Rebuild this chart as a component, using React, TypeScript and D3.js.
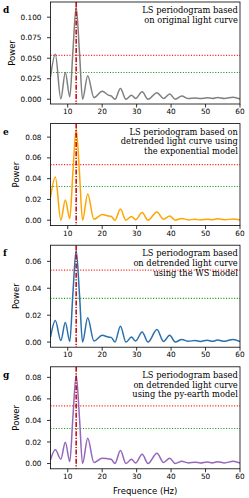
import React from 'react';
import * as d3 from 'd3';

// frequency grid (Hz) at the turning points of the periodograms
const freqs = [
  5.0, 6.4, 8.0, 9.3, 10.6, 11.5, 12.45, 13.4, 14.3, 15.8, 17.6, 20.0, 21.8, 22.6,
  23.7, 25.3, 26.9, 28.5, 29.7, 31.6, 33.3, 35.9, 37.8, 39.6, 41.2, 43.1, 45.0,
  47.0, 48.5, 50.5, 52.0, 53.5, 55.5, 58.0, 60.0,
];

const powerOriginal = [
  0.027, 0.0547, 0.0005, 0.0327, 0.003, 0.058, 0.1125, 0.058, 0.0, 0.0285, 0.002,
  0.0098, 0.005, 0.004, 0.0, 0.013, 0.0, 0.005, 0.001, 0.009, 0.0, 0.008, 0.001,
  0.0065, 0.0, 0.004, 0.0008, 0.0015, 0.0008, 0.0018, 0.001, 0.0022, 0.001, 0.0025,
  0.0003,
];
const powerExp = [
  0.022, 0.0415, 0.0, 0.0194, 0.0016, 0.046, 0.0875, 0.046, 0.0, 0.0253, 0.001,
  0.0055, 0.004, 0.0038, 0.0, 0.0107, 0.0, 0.0036, 0.0005, 0.0075, 0.0, 0.008,
  0.001, 0.004, 0.0, 0.0017, 0.0003, 0.0008, 0.0003, 0.001, 0.0004, 0.0013, 0.0004,
  0.0012, 0.0002,
];
const powerWS = [
  0.0037, 0.016, 0.0012, 0.0145, 0.0005, 0.036, 0.068, 0.036, 0.0, 0.018, 0.0008,
  0.005, 0.0037, 0.0035, 0.0, 0.0118, 0.0, 0.0037, 0.0008, 0.0075, 0.0, 0.0093,
  0.0005, 0.005, 0.0, 0.002, 0.0006, 0.0012, 0.0005, 0.0014, 0.0006, 0.0015, 0.0006,
  0.002, 0.0004,
];
const powerEarth = [
  0.0034, 0.0127, 0.004, 0.0198, 0.0019, 0.043, 0.082, 0.043, 0.0, 0.0235, 0.001,
  0.005, 0.0043, 0.004, 0.0, 0.012, 0.0, 0.004, 0.0005, 0.0086, 0.0, 0.0096, 0.001,
  0.005, 0.0, 0.002, 0.0006, 0.0012, 0.0005, 0.0014, 0.0006, 0.0016, 0.0006, 0.002,
  0.0004,
];

const peakFreq = 12.45;
const thresholdHigh = 0.0535;
const thresholdLow = 0.0325;

const xTicks = [10, 20, 30, 40, 50, 60];
const yTicksOriginal = [0, 0.025, 0.05, 0.075, 0.1];
const yTicksExp = [0, 0.02, 0.04, 0.06, 0.08];
const yTicksWS = [0, 0.02, 0.04, 0.06];
const yTicksEarth = [0, 0.02, 0.04, 0.06, 0.08];

const panels = [
  { letter: 'd', power: powerOriginal, yTicks: yTicksOriginal, yDomain: [-0.0058, 0.1185], digits: 3, color: '#808080',
    caption: ['LS periodogram based', 'on original light curve'] },
  { letter: 'e', power: powerExp, yTicks: yTicksExp, yDomain: [-0.0052, 0.093], digits: 2, color: '#ffa500',
    caption: ['LS periodogram based on', 'detrended light curve using', 'the exponential model'] },
  { letter: 'f', power: powerWS, yTicks: yTicksWS, yDomain: [-0.0038, 0.072], digits: 2, color: '#2a6fae',
    caption: ['LS periodogram based', 'on detrended light curve', 'using the WS model'] },
  { letter: 'g', power: powerEarth, yTicks: yTicksEarth, yDomain: [-0.0049, 0.0898], digits: 2, color: '#9467bd',
    caption: ['LS periodogram based', 'on detrended light curve', 'using the py-earth model'] },
];

const W = 249;
const H = 498;
const left = 50.5;
const right = 240;
const firstTop = 2;
const panelStep = 121.6;
const panelH = 102;
const sans = 'DejaVu Sans, sans-serif';
const serif = 'DejaVu Serif, serif';
const tickFont = 7.3;

const x = d3.scaleLinear().domain([5, 60]).range([left, right]);

const Panel = ({ p, i }: { p: any; i: number }) => {
  const top = firstTop + i * panelStep;
  const bottom = top + panelH;
  const y = d3.scaleLinear().domain(p.yDomain).range([bottom, top]);
  const line = d3
    .line<number>()
    .x((_, k) => x(freqs[k]))
    .y((d) => y(d))
    .curve(d3.curveMonotoneX);
  const fmt = d3.format(`.${p.digits}f`);
  const labelW = (p.digits + 1) * 0.636 * tickFont + 0.318 * tickFont;
  const powerX = 41 - labelW - 8.3;
  const clipId = `clip-${p.letter}`;

  return (
    <g>
      <defs>
        <clipPath id={clipId}>
          <rect x={left} y={top} width={right - left} height={panelH} />
        </clipPath>
      </defs>
      <g clipPath={`url(#${clipId})`}>
        <line x1={left} x2={right} y1={y(thresholdHigh)} y2={y(thresholdHigh)}
          stroke="#ff2020" strokeWidth={1.1} strokeDasharray="1.1,1.6" />
        <line x1={left} x2={right} y1={y(thresholdLow)} y2={y(thresholdLow)}
          stroke="#1a9a1a" strokeWidth={1.1} strokeDasharray="1.1,1.6" />
        <path d={line(p.power) || ''} fill="none" stroke={p.color} strokeWidth={1.5} />
        <line x1={x(peakFreq)} x2={x(peakFreq)} y1={top} y2={bottom}
          stroke="#c00000" strokeWidth={1.5} strokeDasharray="5,1.5,1.2,1.5" />
      </g>
      <rect x={left} y={top} width={right - left} height={panelH} fill="none" stroke="#000" strokeWidth={0.8} />
      {xTicks.map((t) => (
        <g key={t}>
          <line x1={x(t)} x2={x(t)} y1={bottom} y2={bottom + 3.5} stroke="#000" strokeWidth={0.8} />
          <text x={x(t)} y={bottom + 10} fontSize={tickFont} fontFamily={sans} textAnchor="middle">{t}</text>
        </g>
      ))}
      {p.yTicks.map((t: number) => (
        <g key={t}>
          <line x1={left - 3.5} x2={left} y1={y(t)} y2={y(t)} stroke="#000" strokeWidth={0.8} />
          <text x={41.5} y={y(t) + 2.6} fontSize={tickFont} fontFamily={sans} textAnchor="end">{fmt(t)}</text>
        </g>
      ))}
      <text transform={`translate(${powerX},${(top + bottom) / 2}) rotate(-90)`} fontSize={8.5}
        fontFamily={sans} textAnchor="middle" dy="0.35em">Power</text>
      <text x={3} y={top + 11} fontSize={9} fontFamily={serif} fontWeight="bold">{p.letter}</text>
      {p.caption.map((c: string, k: number) => (
        <text key={k} x={237.8} y={top + 11 + k * 9.7} fontSize={8.3} fontFamily={serif} textAnchor="end">{c}</text>
      ))}
    </g>
  );
};

export default function App() {
  return (
    <svg width={W} height={H} style={{ position: 'absolute', left: 0, top: 0, background: '#fff' }}>
      {panels.map((p, i) => <Panel key={p.letter} p={p} i={i} />)}
      <text x={(left + right) / 2} y={494} fontSize={8.5} fontFamily={sans} textAnchor="middle">Frequence (Hz)</text>
    </svg>
  );
}
